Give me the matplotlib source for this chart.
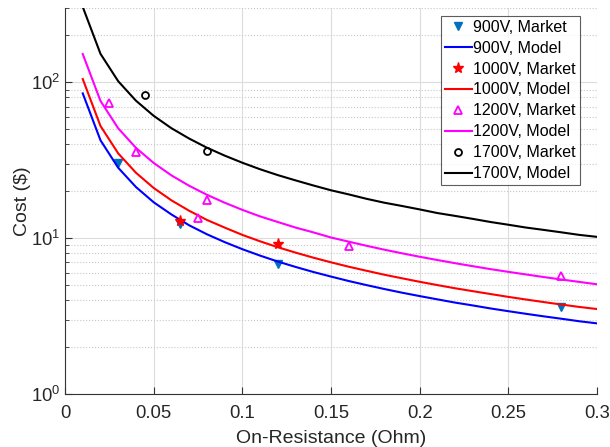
import numpy as np
import matplotlib.pyplot as plt
from matplotlib.ticker import LogLocator, NullFormatter

plt.rcParams['font.family'] = ['Liberation Sans', 'DejaVu Sans']

# market data
r_900 = [0.03, 0.065, 0.12, 0.28]
c_900 = [30.6, 12.3, 6.8, 3.6]
r_1000 = [0.065, 0.12]
c_1000 = [12.9, 9.15]
r_1200 = [0.025, 0.04, 0.075, 0.08, 0.16, 0.28]
c_1200 = [73.6, 35.8, 13.4, 17.7, 8.9, 5.7]
r_1700 = [0.045, 0.08]
c_1700 = [83.4, 36.1]

# model curves, sampled every 0.01 Ohm
r_model = [0.01, 0.02, 0.03, 0.04, 0.05, 0.06, 0.07, 0.08, 0.09, 0.10,
           0.11, 0.12, 0.13, 0.14, 0.15, 0.16, 0.17, 0.18, 0.19, 0.20,
           0.21, 0.22, 0.23, 0.24, 0.25, 0.26, 0.27, 0.28, 0.29, 0.30]
m_900 = [85.0, 42.5, 28.3, 21.3, 17.0, 14.2, 12.1, 10.6, 9.44, 8.50,
         7.73, 7.08, 6.54, 6.07, 5.67, 5.31, 5.00, 4.72, 4.47, 4.25,
         4.05, 3.86, 3.70, 3.54, 3.40, 3.27, 3.15, 3.04, 2.93, 2.84]
m_1000 = [105.0, 52.5, 35.0, 26.3, 21.0, 17.5, 15.0, 13.1, 11.7, 10.5,
          9.55, 8.75, 8.08, 7.50, 7.00, 6.56, 6.18, 5.83, 5.53, 5.25,
          5.00, 4.77, 4.57, 4.38, 4.20, 4.04, 3.89, 3.75, 3.62, 3.51]
m_1200 = [152.0, 76.0, 50.7, 38.0, 30.4, 25.3, 21.7, 19.0, 16.9, 15.2,
          13.8, 12.7, 11.7, 10.9, 10.1, 9.50, 8.94, 8.44, 8.00, 7.60,
          7.24, 6.91, 6.61, 6.33, 6.08, 5.85, 5.63, 5.43, 5.24, 5.06]
m_1700 = [305.0, 152.5, 101.7, 76.3, 61.0, 50.8, 43.6, 38.1, 33.9, 30.5,
          27.7, 25.4, 23.5, 21.8, 20.3, 19.1, 17.9, 16.9, 16.1, 15.3,
          14.5, 13.9, 13.3, 12.7, 12.2, 11.7, 11.3, 10.9, 10.5, 10.2]

fig = plt.figure(figsize=(6.1, 4.47), dpi=100)
ax = fig.add_axes([0.1066, 0.1186, 0.872, 0.8634])

ax.plot(r_900, c_900, 'v', color='#0072BD', ms=6, label='900V, Market')
ax.plot(r_model, m_900, '-', color='#0000FF', lw=1.5, label='900V, Model')
ax.plot(r_1000, c_1000, '*', color='#FF0000', ms=8, label='1000V, Market')
ax.plot(r_model, m_1000, '-', color='#FF0000', lw=1.5, label='1000V, Model')
ax.plot(r_1200, c_1200, '^', mfc='none', mec='#FF00FF', mew=1.3, ms=6,
        label='1200V, Market')
ax.plot(r_model, m_1200, '-', color='#FF00FF', lw=1.5, label='1200V, Model')
ax.plot(r_1700, c_1700, 'o', mfc='none', mec='black', mew=1.3, ms=5,
        label='1700V, Market')
ax.plot(r_model, m_1700, '-', color='black', lw=1.5, label='1700V, Model')

ax.set_yscale('log')
ax.set_xlim(0, 0.3)
ax.set_ylim(1, 300)
ax.set_xticks([0, 0.05, 0.1, 0.15, 0.2, 0.25, 0.3])
ax.set_xticklabels(['0', '0.05', '0.1', '0.15', '0.2', '0.25', '0.3'])
ax.yaxis.set_major_locator(LogLocator(base=10, numticks=5))
ax.yaxis.set_minor_locator(LogLocator(base=10, subs=np.arange(2, 10), numticks=20))
ax.yaxis.set_minor_formatter(NullFormatter())

ax.grid(True, which='major', color='#dcdcdc', lw=0.8)
ax.grid(True, which='minor', axis='y', color='#c8c8c8', lw=0.8, ls=':')
ax.set_axisbelow(True)

for s in ['top', 'right']:
    ax.spines[s].set_visible(False)
for s in ['left', 'bottom']:
    ax.spines[s].set_color('#333333')
    ax.spines[s].set_linewidth(0.8)

ax.tick_params(which='both', direction='in', colors='#333333', labelsize=13.3)
ax.tick_params(which='major', length=5)
ax.tick_params(which='minor', length=3)
ax.tick_params(axis='both', labelcolor='#262626')
ax.tick_params(axis='x', pad=8)

ax.set_xlabel('On-Resistance (Ohm)', fontsize=14, color='#262626', labelpad=6)
ax.set_ylabel('Cost ($)', fontsize=14, color='#262626')
ax.yaxis.set_label_coords(-0.064, 0.5)

leg = ax.legend(loc='upper right', bbox_to_anchor=(0.968, 0.98), fontsize=11.5,
                frameon=True, fancybox=False, edgecolor='#333333',
                handlelength=1.7, handletextpad=0.1, borderpad=0.25,
                labelspacing=0.37, borderaxespad=0)
leg.get_frame().set_linewidth(0.8)

fig.savefig('out.png', dpi=100)
